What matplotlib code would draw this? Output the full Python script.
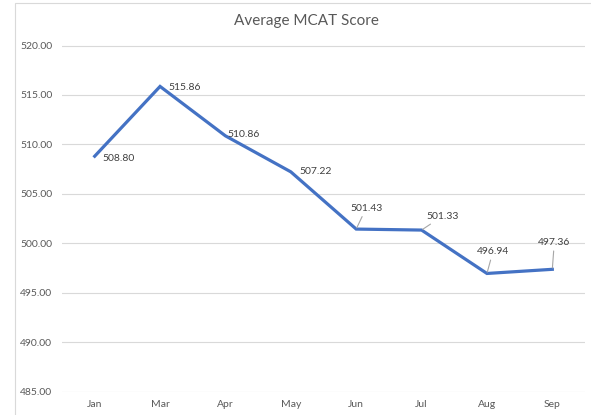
import matplotlib.pyplot as plt
from matplotlib.patches import Rectangle

# Data
months = ['Jan', 'Mar', 'Apr', 'May', 'Jun', 'Jul', 'Aug', 'Sep']
scores = [508.80, 515.86, 510.86, 507.22, 501.43, 501.33, 496.94, 497.36]
yticks = [485, 490, 495, 500, 505, 510, 515, 520]

plt.rcParams['font.family'] = ['Lato', 'DejaVu Sans']

fig = plt.figure(figsize=(5.91, 4.15), dpi=100)
ax = fig.add_axes([62 / 591, 1 - 391.5 / 415, 523 / 591, 346 / 415])

x = list(range(len(months)))
ax.plot(x, scores, color='#4472C4', linewidth=2.3, solid_joinstyle='miter', zorder=3)

# Data labels: (dx, dy) offsets in pixels, ha, leader line?
label_style = [
    (8, -2, 'left', False),
    (8, -1, 'left', False),
    (2, 1, 'left', False),
    (9, 0, 'left', False),
    (10, 21, 'center', True),
    (21, 14, 'center', True),
    (6, 22, 'center', True),
    (2, 27, 'center', True),
]
for xi, val, (dx, dy, ha, leader) in zip(x, scores, label_style):
    kw = {}
    if leader:
        kw['arrowprops'] = dict(arrowstyle='-', color='#A6A6A6', lw=0.8,
                                shrinkA=1, shrinkB=1)
    ax.annotate(f'{val:.2f}', xy=(xi, val), xytext=(dx * 0.72, dy * 0.72),
                textcoords='offset points', ha=ha, va='center',
                fontsize=7.5, color='#404040', zorder=4, **kw)

ax.set_xlim(-0.5, len(months) - 0.5)
ax.set_ylim(485, 520)
ax.set_xticks(x)
ax.set_xticklabels(months)
ax.set_yticks(yticks)
ax.set_yticklabels([f'{t:.2f}' for t in yticks])
ax.tick_params(axis='both', length=0, labelsize=7.5, labelcolor='#595959')
ax.tick_params(axis='y', pad=7)
ax.tick_params(axis='x', pad=6)

ax.grid(axis='y', color='#D9D9D9', linewidth=0.8)
ax.set_axisbelow(True)
for s in ax.spines.values():
    s.set_visible(False)

fig.text(306.5 / 591, 1 - 21 / 415, 'Average MCAT Score', ha='center', va='center',
         fontsize=11, color='#595959')

# chart area border (cropped screenshot)
fig.patches.append(Rectangle((15 / 591, -0.1), 1.1, (1 - 3 / 415) + 0.1,
                             transform=fig.transFigure, fill=False,
                             edgecolor='#D9D9D9', linewidth=0.8))

fig.savefig('out.png', dpi=100)
